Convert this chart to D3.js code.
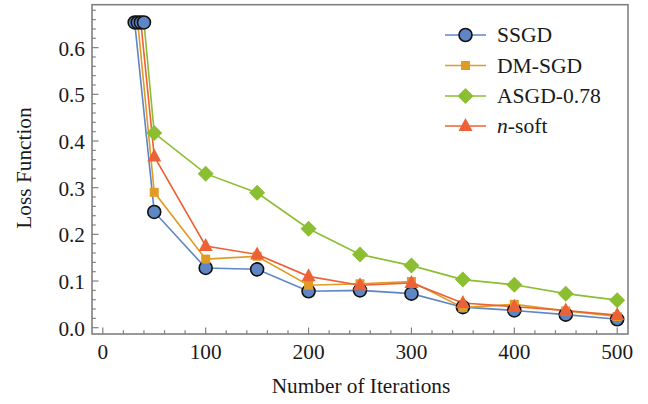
<!DOCTYPE html>
<html>
<head>
<meta charset="utf-8">
<script src="https://cdn.jsdelivr.net/npm/d3@7"></script>
<style>
  html, body { margin: 0; padding: 0; background: #fff; }
  svg text { font-family: "Liberation Serif", "Times New Roman", serif; fill: #1a1a1a; }
</style>
</head>
<body>
<svg id="chart" width="648" height="404"></svg>
<script>
// Iterations at which the loss is sampled
const iterations = [50, 100, 150, 200, 250, 300, 350, 400, 450, 500];

// Starting iteration and initial loss of each method
const startIter = { "SSGD": 31, "DM-SGD": 34, "ASGD-0.78": 40, "n-soft": 37 };
const startLoss = 0.654;

// Loss values per method
const ssgd  = [0.248, 0.128, 0.125, 0.078, 0.080, 0.073, 0.044, 0.037, 0.028, 0.018];
const dmsgd = [0.290, 0.147, 0.153, 0.091, 0.094, 0.099, 0.043, 0.050, 0.036, 0.024];
const asgd  = [0.417, 0.330, 0.289, 0.212, 0.157, 0.133, 0.103, 0.092, 0.073, 0.059];
const nsoft = [0.367, 0.175, 0.157, 0.110, 0.091, 0.096, 0.053, 0.045, 0.037, 0.027];

const seriesNames = ["SSGD", "DM-SGD", "ASGD-0.78", "n-soft"];
const seriesValues = [ssgd, dmsgd, asgd, nsoft];
const seriesColors = ["#5e86c4", "#e09b26", "#8cbe32", "#ec6236"];
const seriesShapes = ["circle", "square", "diamond", "triangle"];

// Axis tick values
const xMajor = [0, 100, 200, 300, 400, 500];
const yMajor = [0.0, 0.1, 0.2, 0.3, 0.4, 0.5, 0.6];

const svg = d3.select("#chart");
const L = 92, R = 628, T = 4.7, B = 334;
const fontSize = 21.3;

const x = d3.scaleLinear().domain([-10.5, 510.5]).range([L, R]);
const y = d3.scaleLinear().domain([-0.0135, 0.692]).range([B, T]);

const frameColor = "#808080";

// Frame
svg.append("rect")
  .attr("x", L).attr("y", T).attr("width", R - L).attr("height", B - T)
  .attr("fill", "none").attr("stroke", frameColor).attr("stroke-width", 1.6);

// Inward ticks on bottom and left edges
const xMinor = d3.range(0, 501, 20).filter(v => v % 100 !== 0);
const yMinor = d3.range(0, 69, 2).map(v => v / 100).filter(v => Math.round(v * 100) % 10 !== 0);

const ticks = svg.append("g").attr("stroke", frameColor).attr("stroke-width", 1.2);
xMajor.forEach(v => ticks.append("line").attr("x1", x(v)).attr("x2", x(v)).attr("y1", B).attr("y2", B - 6.5));
xMinor.forEach(v => ticks.append("line").attr("x1", x(v)).attr("x2", x(v)).attr("y1", B).attr("y2", B - 3.8));
yMajor.forEach(v => ticks.append("line").attr("x1", L).attr("x2", L + 6.5).attr("y1", y(v)).attr("y2", y(v)));
yMinor.forEach(v => ticks.append("line").attr("x1", L).attr("x2", L + 3.8).attr("y1", y(v)).attr("y2", y(v)));

// Tick labels
svg.append("g").selectAll("text").data(xMajor).join("text")
  .attr("x", d => x(d)).attr("y", 358.5)
  .attr("text-anchor", "middle").attr("font-size", fontSize)
  .text(d => d3.format("d")(d));

svg.append("g").selectAll("text").data(yMajor).join("text")
  .attr("x", 85).attr("y", d => y(d) + 8)
  .attr("text-anchor", "end").attr("font-size", fontSize)
  .text(d => d3.format(".1f")(d));

// Axis titles
svg.append("text").attr("x", 361).attr("y", 392.5)
  .attr("text-anchor", "middle").attr("font-size", fontSize)
  .text("Number of Iterations");
svg.append("text")
  .attr("transform", "translate(31,168) rotate(-90)")
  .attr("text-anchor", "middle").attr("font-size", fontSize)
  .text("Loss Function");

// Marker paths
function markerPath(shape) {
  switch (shape) {
    case "circle": return d3.symbol(d3.symbolCircle, Math.PI * 6.5 * 6.5)();
    case "square": return d3.symbol(d3.symbolSquare, 9 * 9)();
    case "diamond": return "M0,-8L8,0L0,8L-8,0Z";
    case "triangle": return "M0,-8L7,5L-7,5Z";
  }
}

const line = d3.line().x(d => x(d[0])).y(d => y(d[1]));

// Lines
const plot = svg.append("g");
seriesNames.forEach((name, i) => {
  const pts = [[startIter[name], startLoss]].concat(iterations.map((it, j) => [it, seriesValues[i][j]]));
  plot.append("path").datum(pts)
    .attr("d", line).attr("fill", "none")
    .attr("stroke", seriesColors[i]).attr("stroke-width", 1.6);
});

// Markers
seriesNames.forEach((name, i) => {
  const shape = seriesShapes[i];
  plot.append("g").selectAll("path").data(iterations.map((it, j) => [it, seriesValues[i][j]])).join("path")
    .attr("transform", d => `translate(${x(d[0])},${y(d[1])})`)
    .attr("d", markerPath(shape))
    .attr("fill", seriesColors[i])
    .attr("stroke", shape === "circle" ? "#111" : "none")
    .attr("stroke-width", shape === "circle" ? 1.6 : 0);
});

// Initial points, drawn as circles on top
const starts = seriesNames.map(n => [startIter[n], startLoss]).sort((a, b) => a[0] - b[0]);
plot.append("g").selectAll("path").data(starts).join("path")
  .attr("transform", d => `translate(${x(d[0])},${y(d[1])})`)
  .attr("d", markerPath("circle"))
  .attr("fill", seriesColors[0]).attr("stroke", "#111").attr("stroke-width", 1.6);

// Legend
const legend = svg.append("g");
const rowBase = [42, 72.5, 103, 133];
seriesNames.forEach((name, i) => {
  const g = legend.append("g").attr("transform", `translate(0,${rowBase[i]})`);
  g.append("line").attr("x1", 445).attr("x2", 486).attr("y1", -7).attr("y2", -7)
    .attr("stroke", seriesColors[i]).attr("stroke-width", 1.6);
  g.append("path").attr("transform", "translate(465.5,-7)")
    .attr("d", markerPath(seriesShapes[i]))
    .attr("fill", seriesColors[i])
    .attr("stroke", seriesShapes[i] === "circle" ? "#111" : "none")
    .attr("stroke-width", 1.6);
  const t = g.append("text").attr("x", 497).attr("y", 0).attr("font-size", 21.6);
  if (name === "n-soft") {
    t.append("tspan").attr("font-style", "italic").text("n");
    t.append("tspan").text("-soft");
  } else {
    t.text(name);
  }
});
</script>
</body>
</html>
